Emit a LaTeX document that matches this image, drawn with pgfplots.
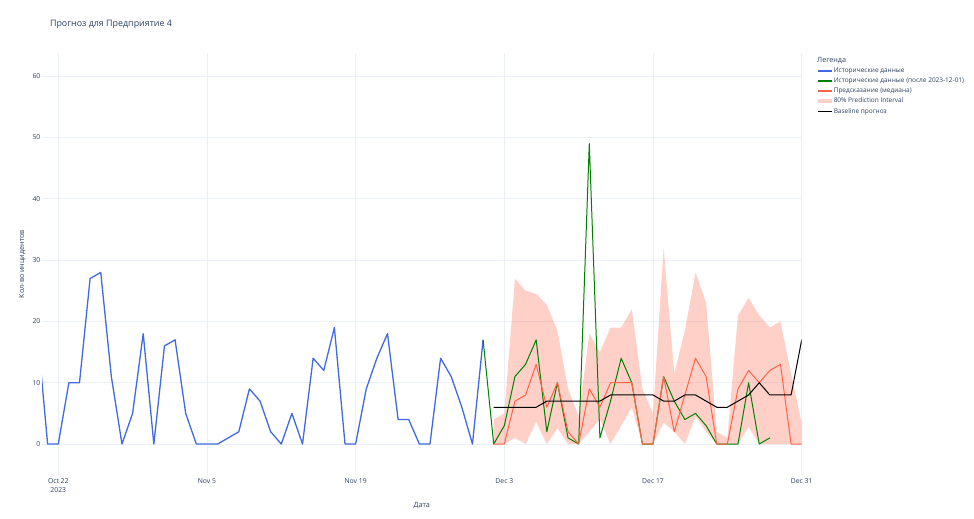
\documentclass[border=0pt]{standalone}
\usepackage{pgfplots}
\pgfplotsset{compat=1.18}
\usepackage{pgfplotstable}
\usepgfplotslibrary{fillbetween}
\usepackage{fontspec}
\setmainfont{Open Sans}
\definecolor{txt}{HTML}{2A3F5F}
\definecolor{gridc}{HTML}{EBF0F8}
\definecolor{histblue}{RGB}{65,105,225}
\definecolor{tomatoc}{RGB}{255,99,71}
\definecolor{greenc}{RGB}{0,128,0}

\pgfplotstableread{
d v
-2 19
-1 0
0 0
1 10
2 10
3 27
4 28
5 11
6 0
7 5
8 18
9 0
10 16
11 17
12 5
13 0
14 0
15 0
16 1
17 2
18 9
19 7
20 2
21 0
22 5
23 0
24 14
25 12
26 19
27 0
28 0
29 9
30 14
31 18
32 4
33 4
34 0
35 0
36 14
37 11
38 6
39 0
40 17
}\hist

\pgfplotstableread{
d v
40 17
41 0
42 3
43 11
44 13
45 17
46 2
47 10
48 1
49 0
50 49
51 1
52 7
53 14
54 10
55 0
56 0
57 11
58 7
59 4
60 5
61 3
62 0
63 0
64 0
65 10
66 0
67 1
}\histafter

\pgfplotstableread{
d med lo up base
41 0 0 4 6
42 0 0 5 6
43 7 1 27 6
44 8 0 25 6
45 13 3.6 24.5 6
46 6 0 22.7 7
47 10 2.6 18.5 7
48 2 0 9 7
49 0 0 4.5 7
50 9 2 18 7
51 6 4 15 7
52 10 0 19 8
53 10 3 19 8
54 10 6 22 8
55 0 0 9 8
56 0 0 5 8
57 11 3.5 32 7
58 2 2 11.5 7
59 8 0 18.5 8
60 14 4.5 28 8
61 11 2 23 7
62 0 0 2 6
63 0 0 1 6
64 9 0 21 7
65 12 2.8 23.8 8
66 10 0 21 10
67 12 0 19 8
68 13 0 20 8
69 0 0 11.5 8
70 0 0 3.4 17
}\fc

\begin{document}
\begin{tikzpicture}
\begin{axis}[
  at={(42pt,44.3pt)}, anchor=south west,
  scale only axis, width=759.7pt, height=421.2pt,
  xmin=-1.53, xmax=70, ymin=-5, ymax=63.7,
  axis line style={draw=none},
  major tick length=0pt,
  xtick={0,14,28,42,56,70},
  xticklabels={{Oct 22\\2023},Nov 5,Nov 19,Dec 3,Dec 17,Dec 31},
  xticklabel style={align=center, font=\fontsize{6.8}{9}\selectfont, text=txt},
  ytick={0,10,20,30,40,50,60},
  yticklabel style={font=\fontsize{6.8}{8}\selectfont, text=txt, inner sep=1.5pt},
  /pgf/number format/assume math mode=true,
  grid=major,
  grid style={gridc, line width=0.8pt},
  xlabel={Дата},
  ylabel={Кол-во инцидентов},
  xlabel style={at={(axis description cs:0.5,-0.0743)}, anchor=center, font=\fontsize{7.2}{8}\selectfont, text=txt},
  ylabel style={at={(axis description cs:-0.0260,0.5)}, anchor=center, font=\fontsize{7.2}{8}\selectfont, text=txt},
  legend style={draw=none, fill=none, at={(axis description cs:1.0189,0.9668)}, anchor=north west,
    inner sep=0pt, row sep=3.6pt,
    font=\fontsize{6.5}{8}\selectfont, text=txt,
    nodes={inner sep=0pt, text height=5pt, text depth=1.5pt, anchor=west},
    /tikz/every even column/.append style={column sep=4pt}},
  legend cell align=left,
  legend image code/.code={\draw[#1, line width=1.3pt] (0pt,0pt) -- (14pt,0pt);},
]
\addplot[histblue, line width=1.3pt, line join=round] table[x=d,y=v]{\hist};
\addlegendentry{Исторические данные}
\addplot[greenc, line width=1.0pt, line join=round] table[x=d,y=v]{\histafter};
\addlegendentry{Исторические данные (после 2023-12-01)}
\addplot[tomatoc, line width=1.0pt, line join=round] table[x=d,y=med]{\fc};
\addlegendentry{Предсказание (медиана)}
\addplot[name path=up, draw=none, forget plot] table[x=d,y=up]{\fc};
\addplot[name path=lo, draw=none, forget plot] table[x=d,y=lo]{\fc};
\addplot[fill=tomatoc, fill opacity=0.3, draw=none,
  legend image code/.code={\draw[line width=3.5pt, tomatoc, opacity=0.3] (0pt,0pt) -- (14pt,0pt);}]
  fill between[of=up and lo];
\addlegendentry{80\% Prediction Interval}
\addplot[black, line width=1.0pt, line join=round] table[x=d,y=base]{\fc};
\addlegendentry{Baseline прогноз}
\end{axis}
\node[anchor=west, font=\fontsize{8.9}{11}\selectfont, text=txt] at (46.5pt,495pt) {Прогноз для Предприятие 4};
\node[anchor=west, font=\fontsize{7.2}{9}\selectfont, text=txt, inner sep=0pt] at (817pt,458pt) {Легенда};
\pgfresetboundingbox
\path (0pt,0pt) rectangle (974pt,519pt);
\end{tikzpicture}
\end{document}
